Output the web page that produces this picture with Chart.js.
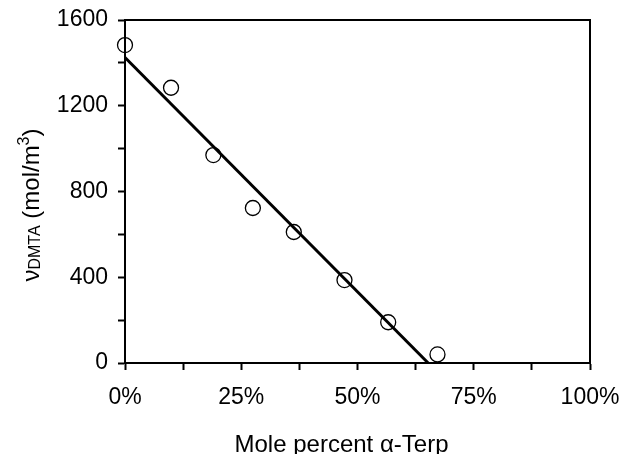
<!DOCTYPE html>
<html>
<head>
<meta charset="utf-8">
<script src="https://cdn.jsdelivr.net/npm/chart.js@4/dist/chart.umd.min.js"></script>
<style>
  html, body { margin: 0; padding: 0; background: #fff; }
  #wrap { width: 629px; height: 454px; position: relative; }
</style>
</head>
<body>
<div id="wrap"><canvas id="c" width="629" height="454"></canvas></div>
<script>
// ---- data ----
const molePercent = [0, 9.9, 19.0, 27.5, 36.3, 47.2, 56.6, 67.2];
const nuDMTA = [1483, 1284, 970, 723, 611, 387, 190, 40];
const fitX = [0, 65.2];
const fitY = [1425, 0];
const xTickLabels = [0, 25, 50, 75, 100];
const yTickLabels = [0, 400, 800, 1200, 1600];
const xTitle = 'Mole percent \u03b1-Terp';
const yTitleMain = '\u03bd';
const yTitleSub = 'DMTA';
const yTitleMid = ' (mol/m';
const yTitleSup = '3';
const yTitleEnd = ')';

const FONT = '"Liberation Sans", Arial, Helvetica, sans-serif';

const titlesPlugin = {
  id: 'titles',
  afterDraw(chart) {
    const { ctx, chartArea } = chart;
    const { left, right, top, bottom } = chartArea;
    ctx.save();
    // closing box (top and right frame)
    ctx.strokeStyle = '#000';
    ctx.lineWidth = 2;
    ctx.beginPath();
    ctx.moveTo(left - 1, top);
    ctx.lineTo(right, top);
    ctx.lineTo(right, bottom + 1);
    ctx.stroke();

    // x title
    ctx.fillStyle = '#000';
    ctx.font = '24px ' + FONT;
    ctx.textAlign = 'center';
    ctx.textBaseline = 'alphabetic';
    ctx.fillText(xTitle, (left + right) / 2 - 16, 452);

    // y title with subscript & superscript
    const mainF = '24px ' + FONT;
    const smallF = '16px ' + FONT;
    ctx.font = mainF; const w1 = ctx.measureText(yTitleMain).width;
    ctx.font = smallF; const w2 = ctx.measureText(yTitleSub).width;
    ctx.font = mainF; const w3 = ctx.measureText(yTitleMid).width;
    ctx.font = smallF; const w4 = ctx.measureText(yTitleSup).width;
    ctx.font = mainF; const w5 = ctx.measureText(yTitleEnd).width;
    const total = w1 + w2 + w3 + w4 + w5;
    const cy = 205;
    ctx.translate(39, cy + total / 2);
    ctx.rotate(-Math.PI / 2);
    ctx.textAlign = 'left';
    let x = 0;
    ctx.font = mainF; ctx.fillText(yTitleMain, x, 0); x += w1;
    ctx.font = smallF; ctx.fillText(yTitleSub, x, 1); x += w2;
    ctx.font = mainF; ctx.fillText(yTitleMid, x, 0); x += w3;
    ctx.font = smallF; ctx.fillText(yTitleSup, x, -10); x += w4;
    ctx.font = mainF; ctx.fillText(yTitleEnd, x, 0);
    ctx.restore();
  }
};

const points = molePercent.map((v, i) => ({ x: v, y: nuDMTA[i] }));
const fit = fitX.map((v, i) => ({ x: v, y: fitY[i] }));

function zeroPad(scale) {
  scale.paddingLeft = 0;
  scale.paddingRight = 0;
  scale.paddingTop = 0;
  scale.paddingBottom = 0;
}

new Chart(document.getElementById('c'), {
  type: 'scatter',
  data: {
    datasets: [
      {
        label: 'fit',
        type: 'line',
        data: fit,
        borderColor: '#000',
        borderWidth: 3,
        pointRadius: 0,
        fill: false,
        tension: 0,
        clip: false,
        order: 1
      },
      {
        label: 'data',
        data: points,
        pointStyle: 'circle',
        pointRadius: 7.5,
        pointBorderWidth: 1.3,
        pointBorderColor: '#000',
        pointBackgroundColor: 'rgba(255,255,255,0)',
        clip: false,
        order: 2
      }
    ]
  },
  options: {
    responsive: false,
    animation: false,
    devicePixelRatio: 1,
    layout: { padding: { left: 0, right: 39, top: 20, bottom: 0 } },
    plugins: { legend: { display: false }, tooltip: { enabled: false } },
    scales: {
      x: {
        type: 'linear',
        min: 0, max: 100,
        afterFit(scale) { scale.height = 91; zeroPad(scale); },
        afterBuildTicks(scale) {
          const t = [];
          for (let v = 0; v <= 100; v += 12.5) t.push({ value: v });
          scale.ticks = t;
        },
        ticks: {
          autoSkip: false,
          maxRotation: 0,
          color: '#000',
          font: { family: FONT, size: 23 },
          padding: 14,
          callback: (v) => xTickLabels.includes(v) ? v + '%' : ''
        },
        grid: { display: true, drawOnChartArea: false, drawTicks: true, tickLength: 7, tickWidth: 2, tickColor: '#000' },
        border: { display: true, color: '#000', width: 2 }
      },
      y: {
        type: 'linear',
        min: 0, max: 1600,
        afterFit(scale) { scale.width = 125; zeroPad(scale); },
        afterBuildTicks(scale) {
          const t = [];
          for (let v = 0; v <= 1600; v += 200) t.push({ value: v });
          scale.ticks = t;
        },
        ticks: {
          autoSkip: false,
          color: '#000',
          font: { family: FONT, size: 23 },
          padding: 10,
          callback: (v) => yTickLabels.includes(v) ? String(v) : ''
        },
        grid: { display: true, drawOnChartArea: false, drawTicks: true, tickLength: 7, tickWidth: 2, tickColor: '#000' },
        border: { display: true, color: '#000', width: 2 }
      }
    }
  },
  plugins: [titlesPlugin]
});
</script>
</body>
</html>
